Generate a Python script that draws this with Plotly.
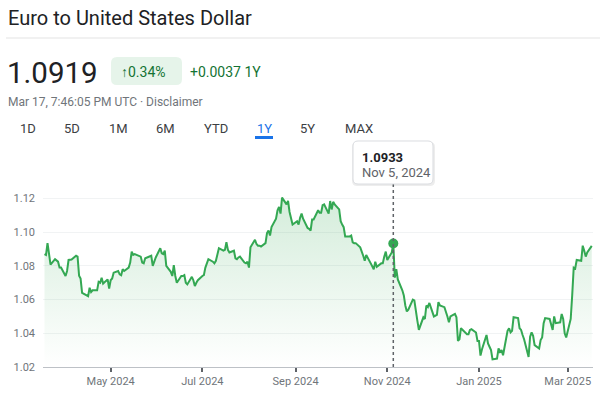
import pandas as pd
import plotly.graph_objects as go

# EUR/USD daily closes, one row per week (Mon..Fri), Mar 18 2024 -> Mar 17 2025
rates = [
    1.0870, 1.0865, 1.0935, 1.0860, 1.0808,
    1.0840, 1.0830, 1.0825, 1.0790, 1.0790,
    1.0740, 1.0770, 1.0835, 1.0837, 1.0838,
    1.0860, 1.0855, 1.0742, 1.0725, 1.0640,
    1.0625, 1.0620, 1.0670, 1.0645, 1.0655,
    1.0655, 1.0705, 1.0700, 1.0730, 1.0695,
    1.0720, 1.0665, 1.0715, 1.0725, 1.0760,
    1.0770, 1.0750, 1.0745, 1.0780, 1.0770,
    1.0790, 1.0820, 1.0885, 1.0865, 1.0870,
    1.0855, 1.0855, 1.0820, 1.0815, 1.0845,
    1.0855, 1.0860, 1.0800, 1.0830, 1.0850,
    1.0905, 1.0875, 1.0870, 1.0890, 1.0800,
    1.0765, 1.0740, 1.0805, 1.0740, 1.0700,
    1.0740, 1.0740, 1.0745, 1.0700, 1.0690,
    1.0735, 1.0715, 1.0680, 1.0700, 1.0715,
    1.0740, 1.0745, 1.0790, 1.0810, 1.0840,
    1.0825, 1.0815, 1.0830, 1.0865, 1.0905,
    1.0890, 1.0895, 1.0940, 1.0895, 1.0880,
    1.0890, 1.0845, 1.0840, 1.0850, 1.0855,
    1.0820, 1.0815, 1.0825, 1.0790, 1.0910,
    1.0955, 1.0930, 1.0920, 1.0920, 1.0915,
    1.0935, 1.0995, 1.1010, 1.0980, 1.1030,
    1.1080, 1.1130, 1.1150, 1.1110, 1.1205,
    1.1165, 1.1185, 1.1120, 1.1075, 1.1045,
    1.1065, 1.1045, 1.1085, 1.1110, 1.1080,
    1.1025, 1.1020, 1.1010, 1.1075, 1.1075,
    1.1130, 1.1115, 1.1115, 1.1160, 1.1165,
    1.1110, 1.1185, 1.1135, 1.1180, 1.1165,
    1.1135, 1.1065, 1.1045, 1.1030, 1.0975,
    1.0975, 1.0980, 1.0940, 1.0935, 1.0935,
    1.0910, 1.0890, 1.0860, 1.0830, 1.0865,
    1.0815, 1.0800, 1.0780, 1.0825, 1.0795,
    1.0815, 1.0815, 1.0855, 1.0885, 1.0835,
    1.0880, 1.0933, 1.0730, 1.0780, 1.0720,
    1.0655, 1.0625, 1.0565, 1.0530, 1.0540,
    1.0600, 1.0595, 1.0545, 1.0475, 1.0420,
    1.0495, 1.0485, 1.0565, 1.0555, 1.0580,
    1.0500, 1.0505, 1.0510, 1.0585, 1.0565,
    1.0555, 1.0530, 1.0500, 1.0465, 1.0500,
    1.0515, 1.0495, 1.0355, 1.0365, 1.0430,
    1.0405, 1.0395, 1.0395, 1.0420, 1.0425,
    1.0405, 1.0355, 1.0355, 1.0268, 1.0305,
    1.0390, 1.0340, 1.0320, 1.0300, 1.0245,
    1.0250, 1.0310, 1.0290, 1.0300, 1.0270,
    1.0415, 1.0430, 1.0405, 1.0415, 1.0495,
    1.0490, 1.0430, 1.0420, 1.0390, 1.0365,
    1.0260, 1.0380, 1.0405, 1.0385, 1.0330,
    1.0310, 1.0360, 1.0375, 1.0460, 1.0490,
    1.0485, 1.0450, 1.0420, 1.0500, 1.0460,
    1.0465, 1.0515, 1.0485, 1.0400, 1.0375,
    1.0485, 1.0625, 1.0790, 1.0785, 1.0835,
    1.0830, 1.0920, 1.0890, 1.0855, 1.0880,
    1.0919,
]
dates = pd.bdate_range("2024-03-18", "2025-03-17")
assert len(dates) == len(rates)

y_ticks = [1.02, 1.04, 1.06, 1.08, 1.10, 1.12]
x_ticks = ["2024-05-01", "2024-07-01", "2024-09-01", "2024-11-01", "2025-01-01", "2025-03-01"]
x_labels = ["May 2024", "Jul 2024", "Sep 2024", "Nov 2024", "Jan 2025", "Mar 2025"]
tabs = ["1D", "5D", "1M", "6M", "YTD", "1Y", "5Y", "MAX"]
hover_date = "2024-11-05"
hover_value = 1.0933

GREEN = "#34a853"
FONT = "Roboto, Arial, sans-serif"

# plot area in pixels
L, R, T, B = 43, 593, 185, 367


def ax(px):
    return (px - L) / (R - L)


def ay(py):
    return (B - py) / (B - T)


def rrect(x0, y0, x1, y1, r):
    p = lambda x, y: f"{ax(x):.5f},{ay(y):.5f}"
    return (f"M{p(x0 + r, y0)} L{p(x1 - r, y0)} Q{p(x1, y0)} {p(x1, y0 + r)} "
            f"L{p(x1, y1 - r)} Q{p(x1, y1)} {p(x1 - r, y1)} L{p(x0 + r, y1)} "
            f"Q{p(x0, y1)} {p(x0, y1 - r)} L{p(x0, y0 + r)} Q{p(x0, y0)} {p(x0 + r, y0)} Z")


fig = go.Figure()

fig.add_trace(go.Scatter(
    x=dates, y=rates, mode="lines",
    line=dict(color=GREEN, width=2),
    fill="tozeroy",
    fillgradient=dict(type="vertical",
                      colorscale=[[0, "rgba(52,168,83,0)"], [1, "rgba(52,168,83,0.22)"]],
                      start=1.02, stop=1.125),
    hoverinfo="skip", showlegend=False,
))

fig.add_trace(go.Scatter(
    x=[hover_date], y=[hover_value], mode="markers",
    marker=dict(color=GREEN, size=10),
    cliponaxis=False, hoverinfo="skip", showlegend=False,
))

shapes = [
    # separator under title
    dict(type="line", xref="paper", yref="paper", x0=ax(6), x1=ax(600), y0=ay(38), y1=ay(38),
         line=dict(color="#e3e3e3", width=1)),
    # change pill
    dict(type="path", xref="paper", yref="paper", path=rrect(111, 57, 182, 85, 6),
         fillcolor="#e6f4ea", line=dict(width=0)),
    # 1Y underline
    dict(type="line", xref="paper", yref="paper", x0=ax(255), x1=ax(273), y0=ay(137.5), y1=ay(137.5),
         line=dict(color="#1a73e8", width=3)),
    # hover guide
    dict(type="line", xref="x", yref="paper", x0=hover_date, x1=hover_date, y0=0, y1=ay(184),
         line=dict(color="#5f6368", width=1.5, dash="dot")),
    # tooltip shadow + box
    dict(type="path", xref="paper", yref="paper", path=rrect(352, 142, 435, 186, 5),
         fillcolor="rgba(0,0,0,0.07)", line=dict(width=0)),
    dict(type="path", xref="paper", yref="paper", path=rrect(353, 141, 433, 184, 5),
         fillcolor="white", line=dict(color="#dadce0", width=1)),
]


def label(text, x, y, size, color, **kw):
    return dict(text=text, xref="paper", yref="paper", x=ax(x), y=ay(y),
                xanchor=kw.pop("xanchor", "left"), yanchor="middle", showarrow=False,
                font=dict(family=FONT, size=size, color=color), **kw)


annotations = [
    label("Euro to United States Dollar", 6, 18, 20, "#202124"),
    label("1.0919", 5, 73.5, 29.5, "#202124"),
    label("↑0.34%", 119, 71.5, 14, "#137333"),
    label("+0.0037 1Y", 188, 71.5, 14, "#137333"),
    label("Mar 17, 7:46:05 PM UTC · Disclaimer", 6, 101.5, 12, "#70757a"),
    label("<b>1.0933</b>", 360, 157, 13, "#202124"),
    label("Nov 5, 2024", 360, 172.5, 13, "#5f6368"),
]
tab_x = [28, 72, 118, 165, 216, 264, 307, 359]
for name, x in zip(tabs, tab_x):
    annotations.append(label(name, x, 128, 13, "#1a73e8" if name == "1Y" else "#3c4043",
                             xanchor="center"))

fig.update_layout(
    width=600, height=405,
    margin=dict(l=L, r=600 - R, t=T, b=405 - B),
    paper_bgcolor="white", plot_bgcolor="white",
    font=dict(family=FONT, size=11, color="#70757a"),
    hovermode=False,
    shapes=shapes, annotations=annotations,
    xaxis=dict(
        range=["2024-03-17", "2025-03-17 20:00"],
        tickvals=x_ticks, ticktext=x_labels,
        showgrid=False, zeroline=False,
        showline=True, linecolor="#bdc1c6", linewidth=1,
        ticks="outside", ticklen=4, tickwidth=1.5, tickcolor="#5f6368",
        tickfont=dict(size=11, color="#70757a"),
        fixedrange=True,
    ),
    yaxis=dict(
        range=[1.02, 1.128],
        tickvals=y_ticks, ticktext=[f"{v:.2f}" for v in y_ticks],
        showgrid=True, gridcolor="#f1f3f4", gridwidth=1,
        zeroline=False, showline=False,
        ticklabelstandoff=7,
        tickfont=dict(size=11, color="#70757a"),
        fixedrange=True,
    ),
)

# drop the browser's default 8px body margin so the figure sits at (0, 0)
fig.write_html("out.html", config={"displayModeBar": False},
               post_script="document.body.style.margin='0';document.body.style.overflow='hidden';")
